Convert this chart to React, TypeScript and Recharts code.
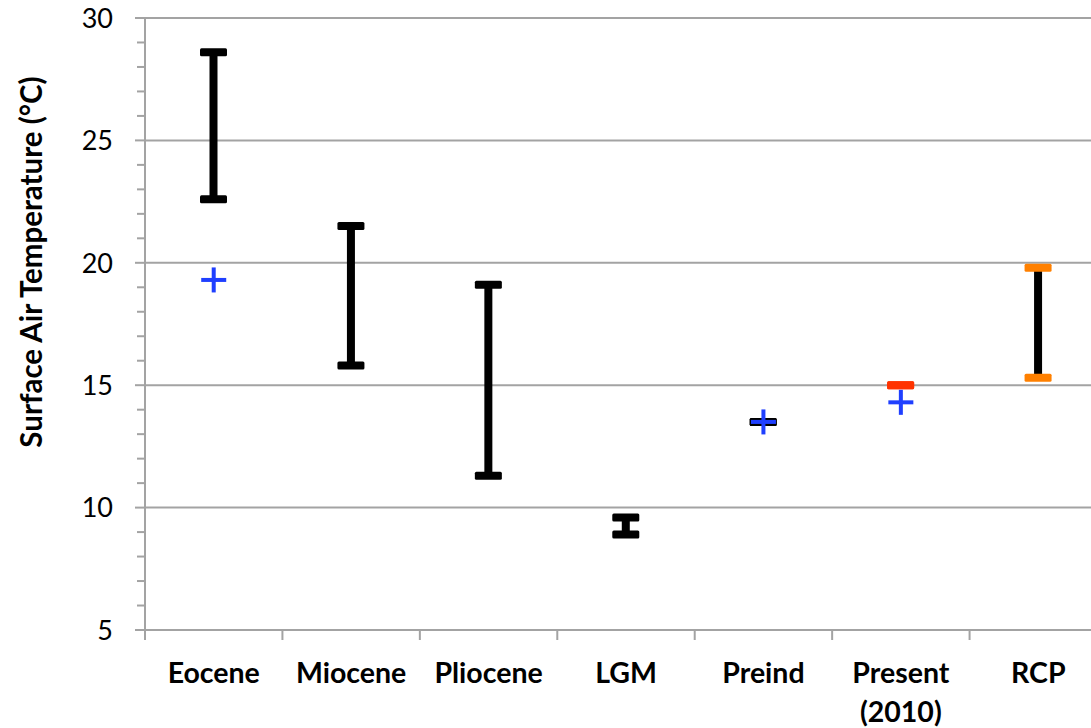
import { ComposedChart, Bar, Scatter, XAxis, YAxis, CartesianGrid } from 'recharts';

const periods = ['Eocene', 'Miocene', 'Pliocene', 'LGM', 'Preind', 'Present (2010)', 'RCP'];
// proxy / projected range (°C)
const rangeLow = [22.6, 15.8, 11.3, 8.9, 13.5, 15.0, 15.3];
const rangeHigh = [28.6, 21.5, 19.1, 9.6, 13.5, 15.0, 19.8];
// model value (blue cross)
const modelValue: (number | null)[] = [19.3, null, null, null, 13.5, 14.3, null];

const yTicks = [5, 6, 7, 8, 9, 10, 11, 12, 13, 14, 15, 16, 17, 18, 19, 20, 21, 22, 23, 24, 25, 26, 27, 28, 29, 30];
const yGrid = [10, 15, 20, 25, 30];

const capColors: Record<string, string> = {
  'Present (2010)': '#ff3300',
  RCP: '#ff8000',
};

const data = periods.map((period, i) => ({
  period,
  range: [rangeLow[i], rangeHigh[i]],
  model: modelValue[i],
}));

const CHART_W = 1110;
const CHART_H = 728;
const Y_AXIS_W = 145;
const MARGIN = { top: 18, right: 3, bottom: 0, left: 0 };
const BAND = (CHART_W - Y_AXIS_W - MARGIN.left - MARGIN.right) / periods.length;
const AXIS_GREY = '#a3a3a3';
const FONT = 'Lato, "Open Sans", sans-serif';

function RangeShape(props: any) {
  const { x, y, width, height, payload } = props;
  const mid = x + width / 2;
  const top = Math.min(y, y + height);
  const bottom = Math.max(y, y + height);
  const cap = capColors[payload.period] ?? '#000';
  return (
    <g>
      {bottom - top > 0 && <rect x={mid - 4} y={top} width={8} height={bottom - top} fill="#000" />}
      <rect x={x} y={top - 4} width={width} height={8} rx={1.5} fill={cap} />
      <rect x={x} y={bottom - 4} width={width} height={8} rx={1.5} fill={cap} />
    </g>
  );
}

function PlusShape(props: any) {
  const { cx, cy, payload } = props;
  if (payload?.model == null || !Number.isFinite(cy)) return null;
  return (
    <g fill="#1f3fff">
      <rect x={cx - 12.5} y={cy - 2} width={25} height={4} />
      <rect x={cx - 2} y={cy - 12.5} width={4} height={25} />
    </g>
  );
}

function YTick({ x, y, payload }: any) {
  const major = payload.value % 5 === 0;
  return (
    <g>
      <line x1={x - (major ? 10 : 8)} x2={x} y1={y} y2={y} stroke={AXIS_GREY} strokeWidth={2} />
      {major && (
        <text x={x - 32} y={y} dy="0.36em" textAnchor="end" fontFamily={FONT} fontSize={27} fill="#000">
          {payload.value}
        </text>
      )}
    </g>
  );
}

function XTick({ x, y, payload, index }: any) {
  const lines = String(payload.value).split(' ');
  const left = x - BAND / 2;
  return (
    <g>
      <line x1={left} x2={left} y1={y} y2={y + 10} stroke={AXIS_GREY} strokeWidth={2} />
      {index === periods.length - 1 && (
        <line x1={x + BAND / 2} x2={x + BAND / 2} y1={y} y2={y + 10} stroke={AXIS_GREY} strokeWidth={2} />
      )}
      <text textAnchor="middle" fontFamily={FONT} fontWeight="bold" fontSize={28.5} fill="#000">
        {lines.map((l, i) => (
          <tspan key={i} x={x} y={y + 53 + i * 39}>
            {l}
          </tspan>
        ))}
      </text>
    </g>
  );
}

function YTitle({ viewBox }: any) {
  const cx = viewBox.x + 30;
  const cy = viewBox.y + 244;
  return (
    <text
      x={cx}
      y={cy}
      transform={`rotate(-90 ${cx} ${cy})`}
      textAnchor="middle"
      dominantBaseline="central"
      fontFamily={FONT}
      fontWeight="bold"
      fontSize={29.5}
      fill="#000"
    >
      Surface Air Temperature (°C)
    </text>
  );
}

export default function App() {
  return (
    <div style={{ position: 'fixed', left: 0, top: 0, width: 1091, height: 728, overflow: 'hidden', background: '#fff' }}>
      <ComposedChart width={CHART_W} height={CHART_H} data={data} margin={MARGIN}>
        <CartesianGrid horizontal vertical={false} horizontalValues={yGrid} stroke={AXIS_GREY} strokeWidth={2} />
        <XAxis
          dataKey="period"
          type="category"
          height={CHART_H - 630}
          interval={0}
          tickSize={0}
          tickMargin={0}
          tickLine={false}
          axisLine={{ stroke: AXIS_GREY, strokeWidth: 2 }}
          tick={<XTick />}
        />
        <YAxis
          type="number"
          domain={[5, 30]}
          ticks={yTicks}
          interval={0}
          width={Y_AXIS_W}
          tickSize={0}
          tickMargin={0}
          tickLine={false}
          axisLine={{ stroke: AXIS_GREY, strokeWidth: 2 }}
          tick={<YTick />}
          allowDataOverflow
          label={{ content: <YTitle /> } as any}
        />
        <Bar dataKey="range" barSize={27} shape={<RangeShape />} isAnimationActive={false} />
        <Scatter dataKey="model" shape={<PlusShape />} isAnimationActive={false} />
      </ComposedChart>
    </div>
  );
}
